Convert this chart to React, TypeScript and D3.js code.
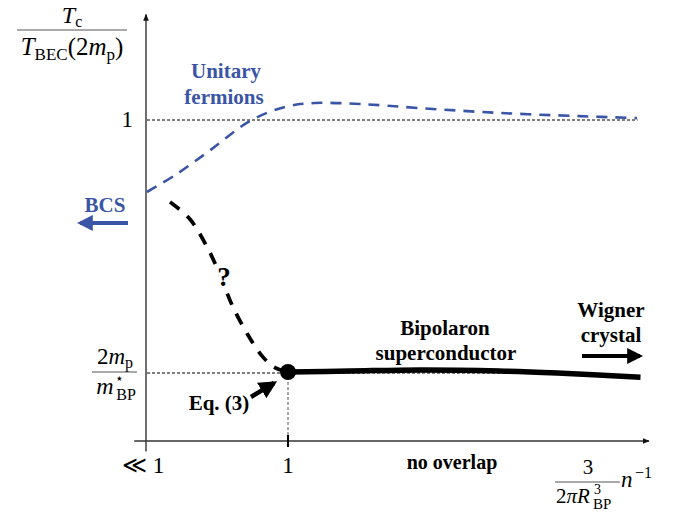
import * as d3 from "d3";

// schematic: x in units where the y-axis is "<< 1" and the tick is 1
const unitaryX = [0, 0.2, 0.45, 0.73, 0.98, 1.19, 1.51, 1.94, 2.5, 3.07, 3.475];
const unitaryY = [0.775, 0.828, 0.906, 0.997, 1.041, 1.053, 1.05, 1.037, 1.022, 1.012, 1.006];

const crossX = [0.163, 0.305, 0.433, 0.518, 0.603, 0.716, 0.823, 0.908, 1];
const crossY = [0.744, 0.69, 0.597, 0.516, 0.422, 0.328, 0.259, 0.226, 0.2125];

const bipX = [1, 1.44, 1.94, 2.5, 2.91, 3.5];
const bipY = [0.2125, 0.2156, 0.219, 0.2156, 0.209, 0.196];

const massRatio = 0.2125; // 2m_p / m*_BP level
const xTickValues = [0, 1];
const xTickLabels = ["\u226A 1", "1"];

const W = 688;
const H = 513;
const BLUE = "#3b55a6";
const SERIF = "Liberation Serif";

const Bold = (p: { x: number; y: number; fill?: string; size?: number; halo?: boolean; children: any }) => (
  <text
    x={p.x}
    y={p.y}
    fontSize={p.size ?? 21}
    fontFamily={SERIF}
    fontWeight={700}
    textAnchor="middle"
    fill={p.fill ?? "#000"}
    stroke={p.halo ? "#fff" : "none"}
    strokeWidth={p.halo ? 6 : 0}
    paintOrder="stroke"
  >
    {p.children}
  </text>
);

export default function App() {
  const x = d3.scaleLinear().domain([0, 1]).range([147, 288]);
  const y = d3.scaleLinear().domain([0, 1]).range([440, 120]);

  const line = d3
    .line<[number, number]>()
    .x((d) => x(d[0]))
    .y((d) => y(d[1]))
    .curve(d3.curveCatmullRom);

  const unitary = line(unitaryX.map((v, i) => [v, unitaryY[i]]) as [number, number][]);
  const cross = line(crossX.map((v, i) => [v, crossY[i]]) as [number, number][]);
  const bip = line(bipX.map((v, i) => [v, bipY[i]]) as [number, number][]);

  return (
    <svg width={W} height={H} style={{ position: "absolute", left: 0, top: 0, background: "#fff" }} fontFamily={SERIF}>
      <defs>
        <marker id="axisHead" viewBox="0 0 10 10" refX="9" refY="5" markerWidth="7" markerHeight="7" orient="auto" markerUnits="userSpaceOnUse">
          <path d="M0,1 L10,5 L0,9 Z" fill="#111" />
        </marker>
        <marker id="blackHead" viewBox="0 0 10 10" refX="8" refY="5" markerWidth="4" markerHeight="4" orient="auto">
          <path d="M0,0 L10,5 L0,10 Z" fill="#000" />
        </marker>
        <marker id="blueHead" viewBox="0 0 10 10" refX="8" refY="5" markerWidth="4" markerHeight="4" orient="auto">
          <path d="M0,0 L10,5 L0,10 Z" fill={BLUE} />
        </marker>
      </defs>

      {/* axes */}
      <line x1={x(-0.09)} y1={y(0) + 1} x2={x(3.56)} y2={y(0) + 1} stroke="#333" strokeWidth={1.4} markerEnd="url(#axisHead)" />
      <line x1={x(0) - 1} y1={y(-0.036)} x2={x(0) - 1} y2={y(1.33)} stroke="#333" strokeWidth={1.4} markerEnd="url(#axisHead)" />

      {/* reference lines */}
      <line x1={x(0)} y1={y(1)} x2={x(3.48)} y2={y(1)} stroke="#000" strokeWidth={1} strokeDasharray="3,2" />
      <line x1={x(0)} y1={y(massRatio) + 1} x2={x(2.72)} y2={y(massRatio) + 1} stroke="#000" strokeWidth={1} strokeDasharray="3,2" />
      <line x1={x(1)} y1={y(massRatio)} x2={x(1)} y2={y(0)} stroke="#555" strokeWidth={1} strokeDasharray="3,2" />
      <line x1={x(1)} y1={y(0) - 5} x2={x(1)} y2={y(0) + 7} stroke="#000" strokeWidth={2} />

      {/* curves */}
      <path d={unitary ?? ""} fill="none" stroke={BLUE} strokeWidth={2.6} strokeDasharray="11,8" />
      <path d={cross ?? ""} fill="none" stroke="#000" strokeWidth={3.7} strokeDasharray="12,10" />
      <path d={bip ?? ""} fill="none" stroke="#000" strokeWidth={5.5} />
      <circle cx={x(1)} cy={y(massRatio)} r={8} fill="#000" />

      {/* y title */}
      <text x={72} y={23} fontSize={24} textAnchor="middle">
        <tspan fontStyle="italic">T</tspan>
        <tspan fontSize={16} dy={4}>c</tspan>
      </text>
      <line x1={17} y1={30} x2={127} y2={30} stroke="#555" strokeWidth={1.2} />
      <text x={72} y={55} fontSize={25} textAnchor="middle">
        <tspan fontStyle="italic">T</tspan>
        <tspan fontSize={17} dy={5}>BEC</tspan>
        <tspan dy={-5}>(2</tspan>
        <tspan fontStyle="italic">m</tspan>
        <tspan fontSize={17} dy={5}>p</tspan>
        <tspan dy={-5}>)</tspan>
      </text>

      {/* y ticks */}
      <text x={133} y={y(1) + 7} fontSize={23} textAnchor="end">1</text>
      <text x={115} y={364} fontSize={23} textAnchor="middle">
        <tspan>2</tspan>
        <tspan fontStyle="italic">m</tspan>
        <tspan fontSize={16} dy={4}>p</tspan>
      </text>
      <line x1={92} y1={y(massRatio)} x2={137} y2={y(massRatio)} stroke="#555" strokeWidth={1.2} />
      <text x={105} y={394} fontSize={24} textAnchor="middle" fontStyle="italic">m</text>
      <text x={119} y={383} fontSize={14} textAnchor="middle">{"\u22C6"}</text>
      <text x={126} y={400} fontSize={16} textAnchor="middle">BP</text>

      {/* x ticks */}
      {xTickValues.map((v, i) => (
        <text key={i} x={x(v) + (i === 0 ? -4 : 0)} y={473} fontSize={24} textAnchor="middle">
          {xTickLabels[i]}
        </text>
      ))}
      <Bold x={452} y={469} size={20}>no overlap</Bold>

      {/* x title */}
      <text x={588} y={474} fontSize={21} textAnchor="middle">3</text>
      <line x1={555} y1={482} x2={620} y2={482} stroke="#555" strokeWidth={1.2} />
      <text x={573} y={503} fontSize={21} textAnchor="middle">
        <tspan>2</tspan>
        <tspan fontStyle="italic">{"\u03C0R"}</tspan>
      </text>
      <text x={594} y={494} fontSize={14}>3</text>
      <text x={593} y={509} fontSize={15}>BP</text>
      <text x={621} y={487} fontSize={23} fontStyle="italic">n</text>
      <text x={635} y={478} fontSize={16}>{"\u22121"}</text>

      {/* annotations */}
      <Bold x={226} y={78} fill={BLUE}>Unitary</Bold>
      <Bold x={224} y={104} fill={BLUE}>fermions</Bold>
      <Bold x={105} y={212} fill={BLUE}>BCS</Bold>
      <line x1={128} y1={223} x2={80} y2={223} stroke={BLUE} strokeWidth={4} markerEnd="url(#blueHead)" />

      <Bold x={224} y={286} size={27} halo>?</Bold>

      <Bold x={445} y={335}>Bipolaron</Bold>
      <Bold x={446} y={360}>superconductor</Bold>
      <Bold x={611} y={317}>Wigner</Bold>
      <Bold x={611} y={342}>crystal</Bold>
      <Bold x={219} y={410}>Eq. (3)</Bold>
      <line x1={582} y1={356} x2={640} y2={356} stroke="#000" strokeWidth={4} markerEnd="url(#blackHead)" />
      <line x1={251} y1={397} x2={274} y2={383} stroke="#000" strokeWidth={4.5} markerEnd="url(#blackHead)" />
    </svg>
  );
}
